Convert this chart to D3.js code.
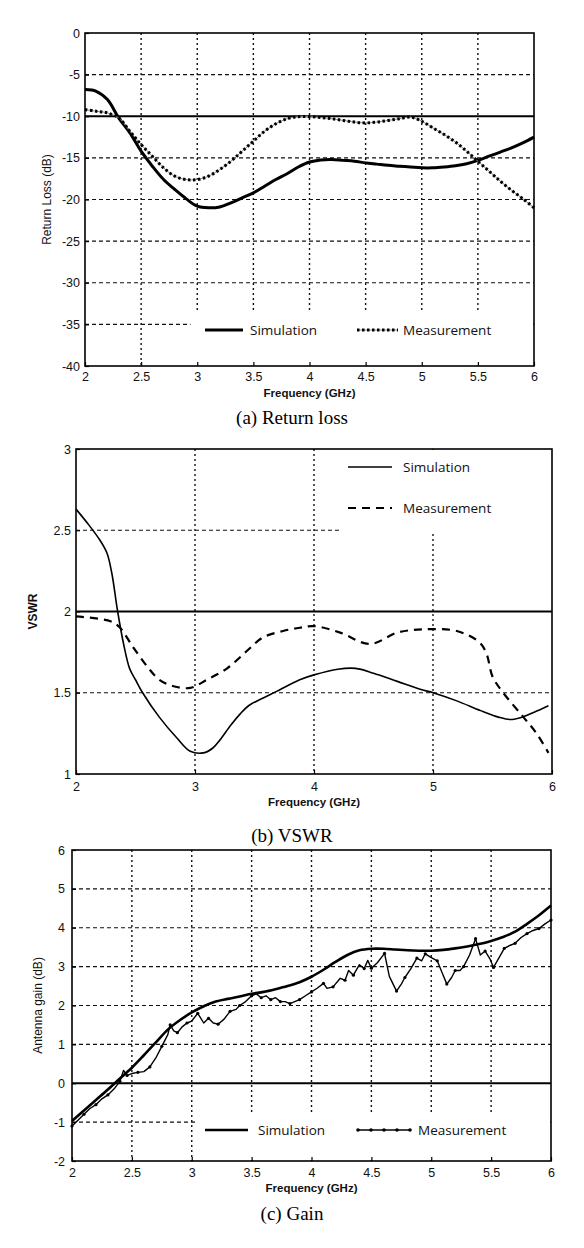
<!DOCTYPE html>
<html>
<head>
<meta charset="utf-8">
<script src="https://cdn.jsdelivr.net/npm/d3@7"></script>
<style>
  body { margin: 0; background: #fff; }
  svg { display: block; }
</style>
</head>
<body>
<div id="chart"></div>
<script>
// ---------- (a) Return loss ----------
const rlFreq = [2.0, 2.1, 2.2, 2.3, 2.4, 2.5, 2.6, 2.7, 2.8, 2.9, 3.0, 3.1, 3.2, 3.3, 3.4, 3.5, 3.6, 3.7, 3.8, 3.9,
                4.0, 4.1, 4.2, 4.3, 4.4, 4.5, 4.6, 4.7, 4.8, 4.9, 5.0, 5.1, 5.2, 5.3, 5.4, 5.5, 5.6, 5.7, 5.8, 5.9, 6.0];
const rlSim = [-6.8, -7.0, -8.0, -10.2, -12.0, -14.2, -16.0, -17.6, -18.8, -19.9, -20.8, -21.0, -20.9, -20.4, -19.8,
               -19.2, -18.4, -17.6, -16.9, -16.1, -15.5, -15.25, -15.2, -15.3, -15.4, -15.6, -15.75, -15.9, -16.0,
               -16.1, -16.2, -16.2, -16.1, -15.95, -15.7, -15.3, -14.8, -14.3, -13.8, -13.2, -12.5];
const rlMeas = [-9.2, -9.4, -9.6, -10.2, -11.8, -13.4, -14.8, -16.2, -17.2, -17.6, -17.6, -17.2, -16.4, -15.4, -14.2,
                -13.0, -11.8, -10.9, -10.3, -10.05, -10.05, -10.15, -10.3, -10.5, -10.7, -10.8, -10.7, -10.5, -10.3,
                -10.1, -10.6, -11.4, -12.2, -13.1, -14.2, -15.4, -16.6, -17.8, -18.9, -19.9, -21.0];
const rlXTicks = [2, 2.5, 3, 3.5, 4, 4.5, 5, 5.5, 6];
const rlYTicks = [0, -5, -10, -15, -20, -25, -30, -35, -40];

// ---------- (b) VSWR ----------
const vsSimFreq = [2.0, 2.1, 2.2, 2.26, 2.3, 2.35, 2.4, 2.45, 2.5, 2.56, 2.7, 2.85, 2.96, 3.07, 3.15, 3.21, 3.3, 3.38,
                   3.45, 3.55, 3.69, 3.88, 4.0, 4.2, 4.35, 4.5, 4.7, 4.9, 5.0, 5.2, 5.4, 5.55, 5.65, 5.75, 5.85, 5.97];
const vsSim = [2.63, 2.54, 2.44, 2.36, 2.24, 2.0, 1.8, 1.65, 1.58, 1.5, 1.35, 1.22, 1.14, 1.13, 1.16, 1.21, 1.3, 1.37,
               1.42, 1.46, 1.51, 1.58, 1.61, 1.645, 1.65, 1.62, 1.57, 1.52, 1.5, 1.45, 1.39, 1.35, 1.335, 1.35, 1.38, 1.42];
const vsMeasFreq = [2.0, 2.29, 2.37, 2.48, 2.6, 2.7, 2.82, 2.96, 3.1, 3.27, 3.44, 3.57, 3.74, 3.88, 4.0, 4.22, 4.47,
                    4.7, 4.92, 5.2, 5.39, 5.45, 5.5, 5.59, 5.76, 5.87, 5.97];
const vsMeas = [1.97, 1.94, 1.9, 1.78, 1.66, 1.58, 1.54, 1.53, 1.58, 1.65, 1.76, 1.84, 1.88, 1.9, 1.91, 1.87, 1.8,
                1.87, 1.89, 1.88, 1.81, 1.74, 1.6, 1.5, 1.35, 1.25, 1.13];
const vsXTicks = [2, 3, 4, 5, 6];
const vsYTicks = [3, 2.5, 2, 1.5, 1];

// ---------- (c) Gain ----------
const gSimFreq = rlFreq;
const gSim = [-0.97, -0.7, -0.43, -0.16, 0.12, 0.4, 0.72, 1.05, 1.38, 1.62, 1.82, 1.98, 2.1, 2.17, 2.23, 2.3, 2.35,
              2.42, 2.5, 2.6, 2.74, 2.92, 3.12, 3.3, 3.42, 3.46, 3.46, 3.44, 3.42, 3.41, 3.41, 3.43, 3.47, 3.52, 3.58,
              3.66, 3.76, 3.9, 4.1, 4.32, 4.57];
const gMeasFreq = [2.0, 2.05, 2.1, 2.15, 2.2, 2.25, 2.3, 2.35, 2.4, 2.43, 2.46, 2.5, 2.55, 2.6, 2.65, 2.7, 2.75, 2.8,
                   2.82, 2.85, 2.88, 2.92, 2.96, 3.0, 3.05, 3.1, 3.14, 3.18, 3.22, 3.27, 3.32, 3.37, 3.4, 3.45, 3.5,
                   3.54, 3.58, 3.62, 3.66, 3.7, 3.74, 3.78, 3.82, 3.86, 3.9, 3.95, 4.0, 4.05, 4.1, 4.13, 4.18, 4.24,
                   4.28, 4.31, 4.35, 4.4, 4.44, 4.47, 4.5, 4.55, 4.61, 4.65, 4.71, 4.75, 4.78, 4.83, 4.88, 4.92, 4.95,
                   4.99, 5.05, 5.09, 5.13, 5.17, 5.2, 5.24, 5.27, 5.32, 5.37, 5.41, 5.45, 5.49, 5.52, 5.57, 5.61, 5.66,
                   5.7, 5.75, 5.8, 5.85, 5.9, 5.95, 6.0];
const gMeas = [-1.1, -0.95, -0.8, -0.65, -0.55, -0.4, -0.3, -0.15, 0.05, 0.33, 0.2, 0.25, 0.28, 0.3, 0.42, 0.65, 0.95,
               1.25, 1.5, 1.35, 1.3, 1.45, 1.55, 1.6, 1.8, 1.55, 1.67, 1.55, 1.52, 1.65, 1.85, 1.9, 2.0, 2.1, 2.25,
               2.3, 2.2, 2.25, 2.15, 2.2, 2.1, 2.1, 2.05, 2.1, 2.15, 2.25, 2.35, 2.45, 2.57, 2.44, 2.48, 2.7, 2.65,
               2.9, 2.78, 3.05, 2.95, 3.16, 2.96, 3.1, 3.34, 2.75, 2.37, 2.55, 2.72, 2.95, 3.22, 3.15, 3.33, 3.25,
               3.15, 2.85, 2.55, 2.72, 2.9, 2.9, 3.0, 3.3, 3.72, 3.3, 3.4, 3.2, 2.98, 3.25, 3.47, 3.55, 3.6, 3.75,
               3.85, 3.93, 3.98, 4.1, 4.2];
const gXTicks = [2, 2.5, 3, 3.5, 4, 4.5, 5, 5.5, 6];
const gYTicks = [6, 5, 4, 3, 2, 1, 0, -1, -2];

const W = 584, H = 1248;
const svg = d3.select("#chart").append("svg")
    .attr("width", W).attr("height", H)
    .attr("viewBox", `0 0 ${W} ${H}`);

const panels = [
  {
    box: {left: 85, right: 534, top: 33, bottom: 366},
    yDomain: [-40, 0], xTicks: rlXTicks, yTicks: rlYTicks, ref: -10,
    xPad: 6, yPad: 5,
    yLabel: "Return Loss (dB)", yLabelX: 47, yLabelBold: false,
    xLabelY: 393, caption: "(a) Return loss", captionY: 424,
    legendArea: {x0: 2.94, y0: -33.5},
    series: [
      {x: rlFreq, y: rlSim, style: "thick"},
      {x: rlFreq, y: rlMeas, style: "dotted"}
    ],
    legend: [
      {style: "thick", x1: 205, x2: 243, y: 330, text: "Simulation", tx: 250},
      {style: "dotted", x1: 357, x2: 398, y: 330, text: "Measurement", tx: 403}
    ]
  },
  {
    box: {left: 76, right: 552, top: 449, bottom: 774},
    yDomain: [1, 3], xTicks: vsXTicks, yTicks: vsYTicks, ref: 2,
    xPad: 8, yPad: 5,
    yLabel: "VSWR", yLabelX: 33, yLabelBold: true,
    xLabelY: 802, caption: "(b) VSWR", captionY: 842,
    legendArea: {x0: 4.22, y0: 2.48, top: true},
    series: [
      {x: vsSimFreq, y: vsSim, style: "thin"},
      {x: vsMeasFreq, y: vsMeas, style: "dashed"}
    ],
    legend: [
      {style: "thin", x1: 348, x2: 392, y: 467, text: "Simulation", tx: 403},
      {style: "dashed", x1: 348, x2: 392, y: 508, text: "Measurement", tx: 403}
    ]
  },
  {
    box: {left: 72, right: 551, top: 850, bottom: 1161},
    yDomain: [-2, 6], xTicks: gXTicks, yTicks: gYTicks, ref: 0,
    xPad: 7, yPad: 7,
    yLabel: "Antenna gain (dB)", yLabelX: 38, yLabelBold: false,
    xLabelY: 1188, caption: "(c) Gain", captionY: 1220,
    legendArea: {x0: 3.03, y0: -0.77},
    series: [
      {x: gSimFreq, y: gSim, style: "medium"},
      {x: gMeasFreq, y: gMeas, style: "marked"}
    ],
    legend: [
      {style: "medium", x1: 205, x2: 248, y: 1130, text: "Simulation", tx: 258},
      {style: "marked", x1: 358, x2: 410, y: 1130, text: "Measurement", tx: 418}
    ]
  }
];

const tickFont = "'Liberation Sans', Arial, sans-serif";
const legendFont = "'Open Sans', 'Liberation Sans', sans-serif";

function strokeFor(sel, style) {
  if (style === "thick") sel.attr("stroke-width", 3);
  if (style === "medium") sel.attr("stroke-width", 2.6);
  if (style === "thin") sel.attr("stroke-width", 1.6);
  if (style === "dashed") sel.attr("stroke-width", 2.2).attr("stroke-dasharray", "8,6");
  if (style === "dotted") sel.attr("stroke-width", 3).attr("stroke-dasharray", "2.5,2.5");
  if (style === "marked") sel.attr("stroke-width", 1.4);
  return sel;
}

panels.forEach(p => {
  const b = p.box;
  const x = d3.scaleLinear().domain([2, 6]).range([b.left, b.right]);
  const y = d3.scaleLinear().domain(p.yDomain).range([b.bottom, b.top]);
  const g = svg.append("g");

  // grid: dashed horizontal, dotted vertical
  g.selectAll(".hgrid")
    .data(p.yTicks.filter(v => v !== p.yDomain[0] && v !== p.yDomain[1] && v !== p.ref))
    .enter().append("line")
    .attr("x1", b.left).attr("x2", b.right)
    .attr("y1", d => y(d)).attr("y2", d => y(d))
    .attr("stroke", "#111").attr("stroke-width", 1.2).attr("stroke-dasharray", "4,3");
  g.selectAll(".vgrid")
    .data(p.xTicks.filter(v => v !== 2 && v !== 6))
    .enter().append("line")
    .attr("x1", d => x(d)).attr("x2", d => x(d))
    .attr("y1", b.top).attr("y2", b.bottom)
    .attr("stroke", "#111").attr("stroke-width", 1.4).attr("stroke-dasharray", "2,3");

  // reference level
  g.append("line")
    .attr("x1", b.left).attr("x2", b.right)
    .attr("y1", y(p.ref)).attr("y2", y(p.ref))
    .attr("stroke", "#000").attr("stroke-width", 1.8);

  // legend background hides the grid under it
  const la = p.legendArea;
  const ly0 = la.top ? b.top + 1 : y(la.y0);
  const ly1 = la.top ? y(la.y0) : b.bottom - 1;
  g.append("rect")
    .attr("x", x(la.x0)).attr("y", ly0)
    .attr("width", b.right - 1 - x(la.x0)).attr("height", ly1 - ly0)
    .attr("fill", "#fff");

  // series
  p.series.forEach(s => {
    const pts = s.x.map((f, i) => [f, s.y[i]]);
    const line = d3.line()
      .x(d => x(d[0])).y(d => y(d[1]))
      .curve(s.style === "marked" ? d3.curveLinear : d3.curveCatmullRom.alpha(0.5));
    if (s.style === "dotted") {
      g.append("path").attr("d", line(pts)).attr("fill", "none")
        .attr("stroke", "#888").attr("stroke-width", 1);
    }
    strokeFor(g.append("path").attr("d", line(pts)).attr("fill", "none")
      .attr("stroke", "#000").attr("stroke-linejoin", "round"), s.style);
    if (s.style === "marked") {
      g.selectAll(null).data(pts.filter((d, i) => i % 2 === 0)).enter().append("circle")
        .attr("cx", d => x(d[0])).attr("cy", d => y(d[1])).attr("r", 1.6).attr("fill", "#000");
    }
  });

  // frame
  g.append("rect")
    .attr("x", b.left).attr("y", b.top)
    .attr("width", b.right - b.left).attr("height", b.bottom - b.top)
    .attr("fill", "none").attr("stroke", "#000").attr("stroke-width", 1.6);

  // axes
  const xAxis = g.append("g").attr("transform", `translate(0,${b.bottom})`)
    .call(d3.axisBottom(x).tickValues(p.xTicks).tickSize(-4).tickPadding(p.xPad).tickFormat(d => d));
  const yAxis = g.append("g").attr("transform", `translate(${b.left},0)`)
    .call(d3.axisLeft(y).tickValues(p.yTicks).tickSize(-4).tickPadding(p.yPad).tickFormat(d => d));
  [xAxis, yAxis].forEach(a => {
    a.select(".domain").remove();
    a.selectAll("line").attr("stroke", "#000").attr("stroke-width", 1.2);
    a.selectAll("text").attr("font-family", tickFont).attr("font-size", 12.5).attr("fill", "#111");
  });

  g.append("text")
    .attr("x", x(4)).attr("y", p.xLabelY).attr("dy", "0.35em")
    .attr("text-anchor", "middle").attr("font-family", tickFont)
    .attr("font-size", 11.5).attr("font-weight", "bold").attr("fill", "#111")
    .text("Frequency (GHz)");

  g.append("text")
    .attr("transform", `translate(${p.yLabelX},${(b.top + b.bottom) / 2}) rotate(-90)`)
    .attr("dy", "0.35em").attr("text-anchor", "middle").attr("font-family", tickFont)
    .attr("font-size", 12).attr("font-weight", p.yLabelBold ? "bold" : "normal").attr("fill", "#111")
    .text(p.yLabel);

  g.append("text")
    .attr("x", W / 2).attr("y", p.captionY).attr("text-anchor", "middle")
    .attr("font-family", "'Liberation Serif', 'Times New Roman', serif")
    .attr("font-size", 19).attr("fill", "#000")
    .text(p.caption);

  // legend
  p.legend.forEach(l => {
    if (l.style === "dotted") {
      g.append("line").attr("x1", l.x1).attr("x2", l.x2).attr("y1", l.y).attr("y2", l.y)
        .attr("stroke", "#888").attr("stroke-width", 1);
    }
    strokeFor(g.append("line").attr("x1", l.x1).attr("x2", l.x2).attr("y1", l.y).attr("y2", l.y)
      .attr("stroke", "#000"), l.style);
    if (l.style === "marked") {
      g.selectAll(null).data(d3.range(5)).enter().append("circle")
        .attr("cx", i => l.x1 + i * (l.x2 - l.x1) / 4).attr("cy", l.y).attr("r", 1.8).attr("fill", "#000");
    }
    g.append("text").attr("x", l.tx).attr("y", l.y).attr("dy", "0.35em")
      .attr("font-family", legendFont).attr("font-size", 13.5).attr("fill", "#111")
      .text(l.text);
  });
});
</script>
</body>
</html>
